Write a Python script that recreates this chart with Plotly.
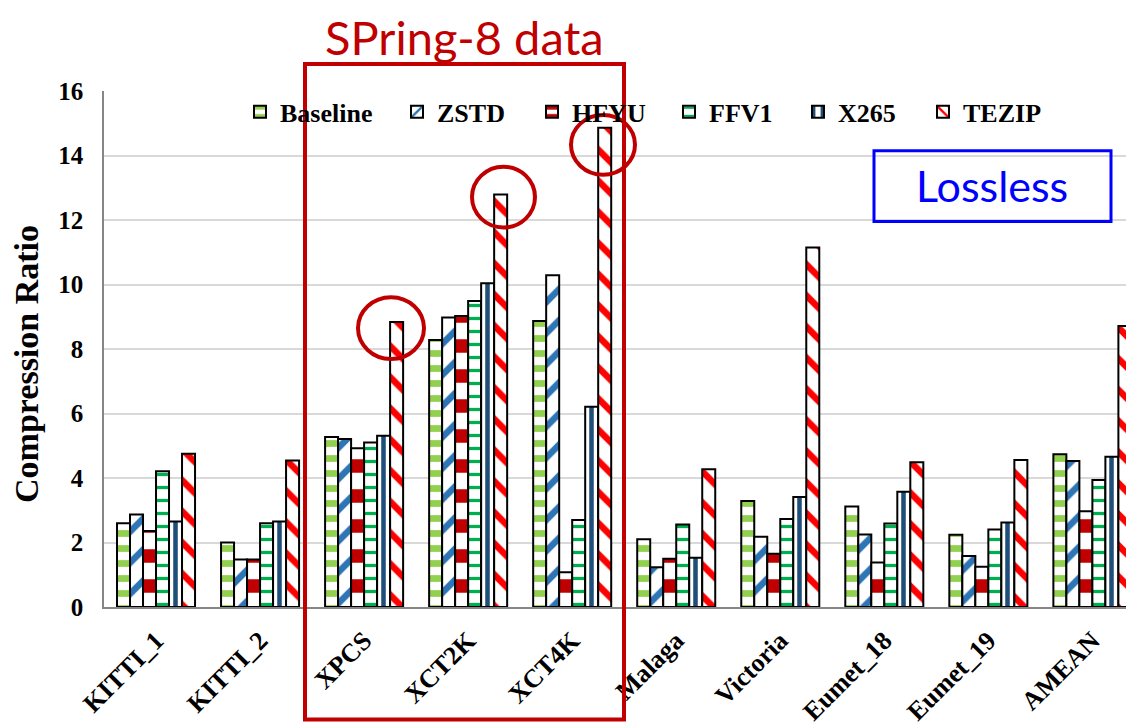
import plotly.graph_objects as go

categories = ["KITTI_1", "KITTI_2", "XPCS", "XCT2K", "XCT4K", "Malaga",
              "Victoria", "Eumet_18", "Eumet_19", "AMEAN"]

baseline = [2.60, 2.00, 5.27, 8.28, 8.87, 2.10, 3.29, 3.12, 2.24, 4.74]
zstd     = [2.87, 1.47, 5.21, 8.98, 10.29, 1.23, 2.18, 2.25, 1.58, 4.53]
hfyu     = [2.36, 1.47, 4.92, 9.02, 1.08, 1.50, 1.65, 1.38, 1.25, 2.97]
ffv1     = [4.21, 2.60, 5.10, 9.49, 2.70, 2.56, 2.73, 2.59, 2.40, 3.94]
x265     = [2.65, 2.65, 5.31, 10.04, 6.21, 1.53, 3.41, 3.57, 2.62, 4.66]
tezip    = [4.75, 4.54, 8.84, 12.79, 14.86, 4.27, 11.15, 4.49, 4.56, 8.71]

series_names = ["Baseline", "ZSTD", "HFYU", "FFV1", "X265", "TEZIP"]
series_values = [baseline, zstd, hfyu, ffv1, x265, tezip]
series_colors = ["#92D050", "#2E75B6", "#C00000", "#00B050", "#1F4E79", "#FF0000"]
series_shapes = ["-", "/", "-", "-", "|", "\\"]
series_psize = [15, 22, 30, 13, 13, 22]
series_solid = [0.45, 0.3, 0.45, 0.25, 0.35, 0.3]
legend_widths = [112, 90, 92, 84, 80, 80]

y_title = "Compression Ratio"

# page offset (browser body margin)
OFF = 8
W, H = 1134 - OFF, 726 - OFF
L, R, T = 104 - OFF, 0, 91 - OFF
B = H - (609 - OFF)
PW, PH = W - L - R, H - T - B


def px(x):
    """reference page pixel x -> paper x"""
    return (x - OFF - L) / PW


def py(y):
    """reference page pixel y -> paper y"""
    return (H - B - (y - OFF)) / PH


SERIF = "Liberation Serif, Times New Roman, serif"

fig = go.Figure()
for name, vals, col, shp, ps, so, lw in zip(series_names, series_values, series_colors,
                                            series_shapes, series_psize, series_solid,
                                            legend_widths):
    fig.add_trace(go.Bar(
        name=name, x=categories, y=vals,
        marker=dict(color="white",
                    line=dict(color="black", width=2),
                    pattern=dict(shape=shp, fgcolor=col, bgcolor="white",
                                 size=ps, solidity=so, fillmode="replace")),
        legendwidth=lw,
    ))

fig.update_layout(
    width=W, height=H,
    margin=dict(l=L, r=R, t=T, b=B, pad=0),
    paper_bgcolor="white", plot_bgcolor="white",
    barmode="group", bargap=0.25, bargroupgap=0,
    font=dict(family=SERIF, color="black"),
    legend=dict(orientation="h", x=px(240), xanchor="left", y=py(112), yanchor="middle",
                bgcolor="rgba(0,0,0,0)",
                font=dict(family=SERIF, size=26, weight="bold", color="black")),
    xaxis=dict(range=[-0.5, 9.4], showline=True, linecolor="#868686", linewidth=2,
               tickangle=-45, ticks="", showgrid=False, ticklabelstandoff=6,
               tickfont=dict(family=SERIF, size=26, weight="bold", color="black")),
    yaxis=dict(range=[0, 16], dtick=2, showgrid=True, gridcolor="#D9D9D9", gridwidth=1.5,
               showline=True, linecolor="#868686", linewidth=1.5, ticks="",
               ticklabelstandoff=14, zeroline=False,
               tickfont=dict(family=SERIF, size=25, weight="bold", color="black")),
)

RED = "#C00000"
shapes = [
    dict(type="rect", xref="paper", yref="paper", x0=px(305), x1=px(624), y0=py(722), y1=py(64),
         line=dict(color=RED, width=4)),
    dict(type="circle", xref="paper", yref="paper", x0=px(358), x1=px(424), y0=py(360), y1=py(298),
         line=dict(color=RED, width=4)),
    dict(type="circle", xref="paper", yref="paper", x0=px(472), x1=px(535), y0=py(228), y1=py(167),
         line=dict(color=RED, width=4)),
    dict(type="circle", xref="paper", yref="paper", x0=px(571), x1=px(635), y0=py(175), y1=py(115),
         line=dict(color=RED, width=4)),
    dict(type="rect", xref="paper", yref="paper", x0=px(874), x1=px(1111), y0=py(222), y1=py(151),
         line=dict(color="#0000FF", width=3)),
]
fig.update_layout(shapes=shapes)

# y-axis title (placed as rotated text to match reference position)
fig.add_annotation(text=y_title, xref="paper", yref="paper", x=px(27), y=py(365),
                   showarrow=False, xanchor="center", yanchor="middle", textangle=-90,
                   font=dict(family=SERIF, size=34, weight="bold", color="black"))

fig.add_annotation(text="SPring-8 data", xref="paper", yref="paper", x=px(464), y=py(8),
                   showarrow=False, xanchor="center", yanchor="top", borderpad=0,
                   font=dict(family="Lato, Noto Sans, sans-serif", size=47, color=RED))
fig.add_annotation(text="Lossless", xref="paper", yref="paper", x=px(992), y=py(186),
                   showarrow=False, xanchor="center", yanchor="middle",
                   font=dict(family="Lato, Noto Sans, sans-serif", size=43, color="#0000FF"))

fig.write_html("out.html")
